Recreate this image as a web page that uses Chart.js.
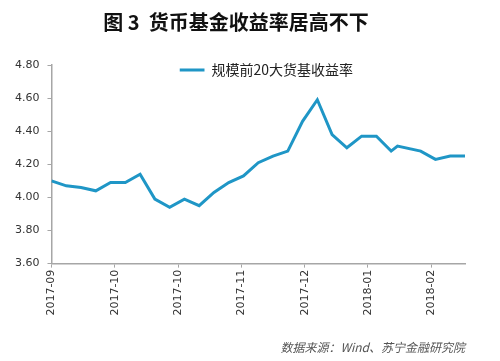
<!DOCTYPE html>
<html>
<head>
<meta charset="utf-8">
<script src="https://cdn.jsdelivr.net/npm/chart.js@4/dist/chart.umd.min.js"></script>
<style>
  body { margin: 0; background: #fff; }
  #wrap { width: 500px; height: 361px; }
</style>
</head>
<body>
<div id="wrap"><canvas id="yieldChart" width="500" height="361"></canvas></div>
<script>
// days since 2017-09-01, roughly weekly
var days = [0, 7, 14, 21, 28, 35, 42, 49, 56, 63, 70, 77, 84, 91, 98, 105, 112, 119, 126, 133, 140, 147, 154, 161, 164, 175, 182, 189, 196];
var yields = [4.10, 4.07, 4.06, 4.04, 4.09, 4.09, 4.14, 3.99, 3.94, 3.99, 3.95, 4.03, 4.09, 4.13, 4.21, 4.25, 4.28, 4.46, 4.59, 4.38, 4.30, 4.37, 4.37, 4.28, 4.31, 4.28, 4.23, 4.25, 4.25];
var tickDays = [0, 30, 60, 90, 120, 150, 180];
var tickLabels = ['2017-09', '2017-10', '2017-10', '2017-11', '2017-12', '2018-01', '2018-02'];
var seriesName = '规模前20大货基收益率';

var lineColor = '#1f96c6';
var axisColor = '#a6a6a6';
var tickFont = { family: "'DejaVu Sans', 'Noto Sans CJK SC'", size: 11 };

var pts = [];
for (let i = 0; i < days.length; i++) {
    pts.push({ x: days[i], y: yields[i] });
}

// put the legend inside the plot, near the top, like the original
var legendPlace = {
    id: 'legendPlace',
    afterLayout: function (chart) {
        var lg = chart.legend;
        var area = chart.chartArea;
        if (!lg) return;
        lg.left = area.left + 128;
        lg.right = lg.left + 220;
        lg.top = area.top - 2;
        lg.bottom = lg.top + 20;
        lg.width = lg.right - lg.left;
        lg.height = lg.bottom - lg.top;
    }
};

const config = {
    type: 'line',
    data: {
        datasets: [{
            label: seriesName,
            data: pts,
            borderColor: lineColor,
            backgroundColor: lineColor,
            borderWidth: 3,
            pointRadius: 0,
            tension: 0
        }]
    },
    options: {
        responsive: false,
        animation: false,
        layout: { padding: { left: 7, right: 35, top: 0, bottom: 0 } },
        plugins: {
            title: {
                display: true,
                text: '图 3  货币基金收益率居高不下',
                color: '#111',
                font: { family: "'Noto Sans CJK SC'", size: 20, weight: 'bold' },
                padding: { top: 10, bottom: 31 }
            },
            subtitle: {
                display: true,
                position: 'bottom',
                align: 'end',
                text: '数据来源：Wind、苏宁金融研究院',
                color: '#555',
                font: { family: "'Noto Sans CJK SC'", size: 12, style: 'italic' },
                padding: { top: 23, bottom: 6 }
            },
            legend: {
                position: 'chartArea',
                align: 'start',
                labels: {
                    usePointStyle: true,
                    pointStyle: 'line',
                    pointStyleWidth: 25,
                    padding: 0,
                    color: '#222',
                    font: { family: "'Noto Sans CJK SC'", size: 14 }
                }
            },
            tooltip: { enabled: false }
        },
        scales: {
            x: {
                type: 'linear',
                min: 0,
                max: 196,
                border: { color: axisColor, width: 1.5 },
                grid: { display: true, drawOnChartArea: false, drawTicks: true, tickLength: 4, color: axisColor },
                ticks: {
                    stepSize: 30,
                    includeBounds: false,
                    autoSkip: false,
                    minRotation: 90,
                    maxRotation: 90,
                    padding: 2,
                    color: '#333',
                    font: tickFont,
                    callback: function (v) {
                        var idx = tickDays.indexOf(v);
                        return idx >= 0 ? tickLabels[idx] : '';
                    }
                }
            },
            y: {
                min: 3.6,
                max: 4.8,
                border: { color: axisColor, width: 1.5 },
                grid: { display: true, drawOnChartArea: false, drawTicks: true, tickLength: 4, color: axisColor },
                ticks: {
                    stepSize: 0.2,
                    padding: 8,
                    color: '#333',
                    font: tickFont,
                    callback: function (v) { return v.toFixed(2); }
                }
            }
        }
    },
    plugins: [legendPlace]
};

var yieldChart = new Chart(document.getElementById('yieldChart'), config);
</script>
</body>
</html>
